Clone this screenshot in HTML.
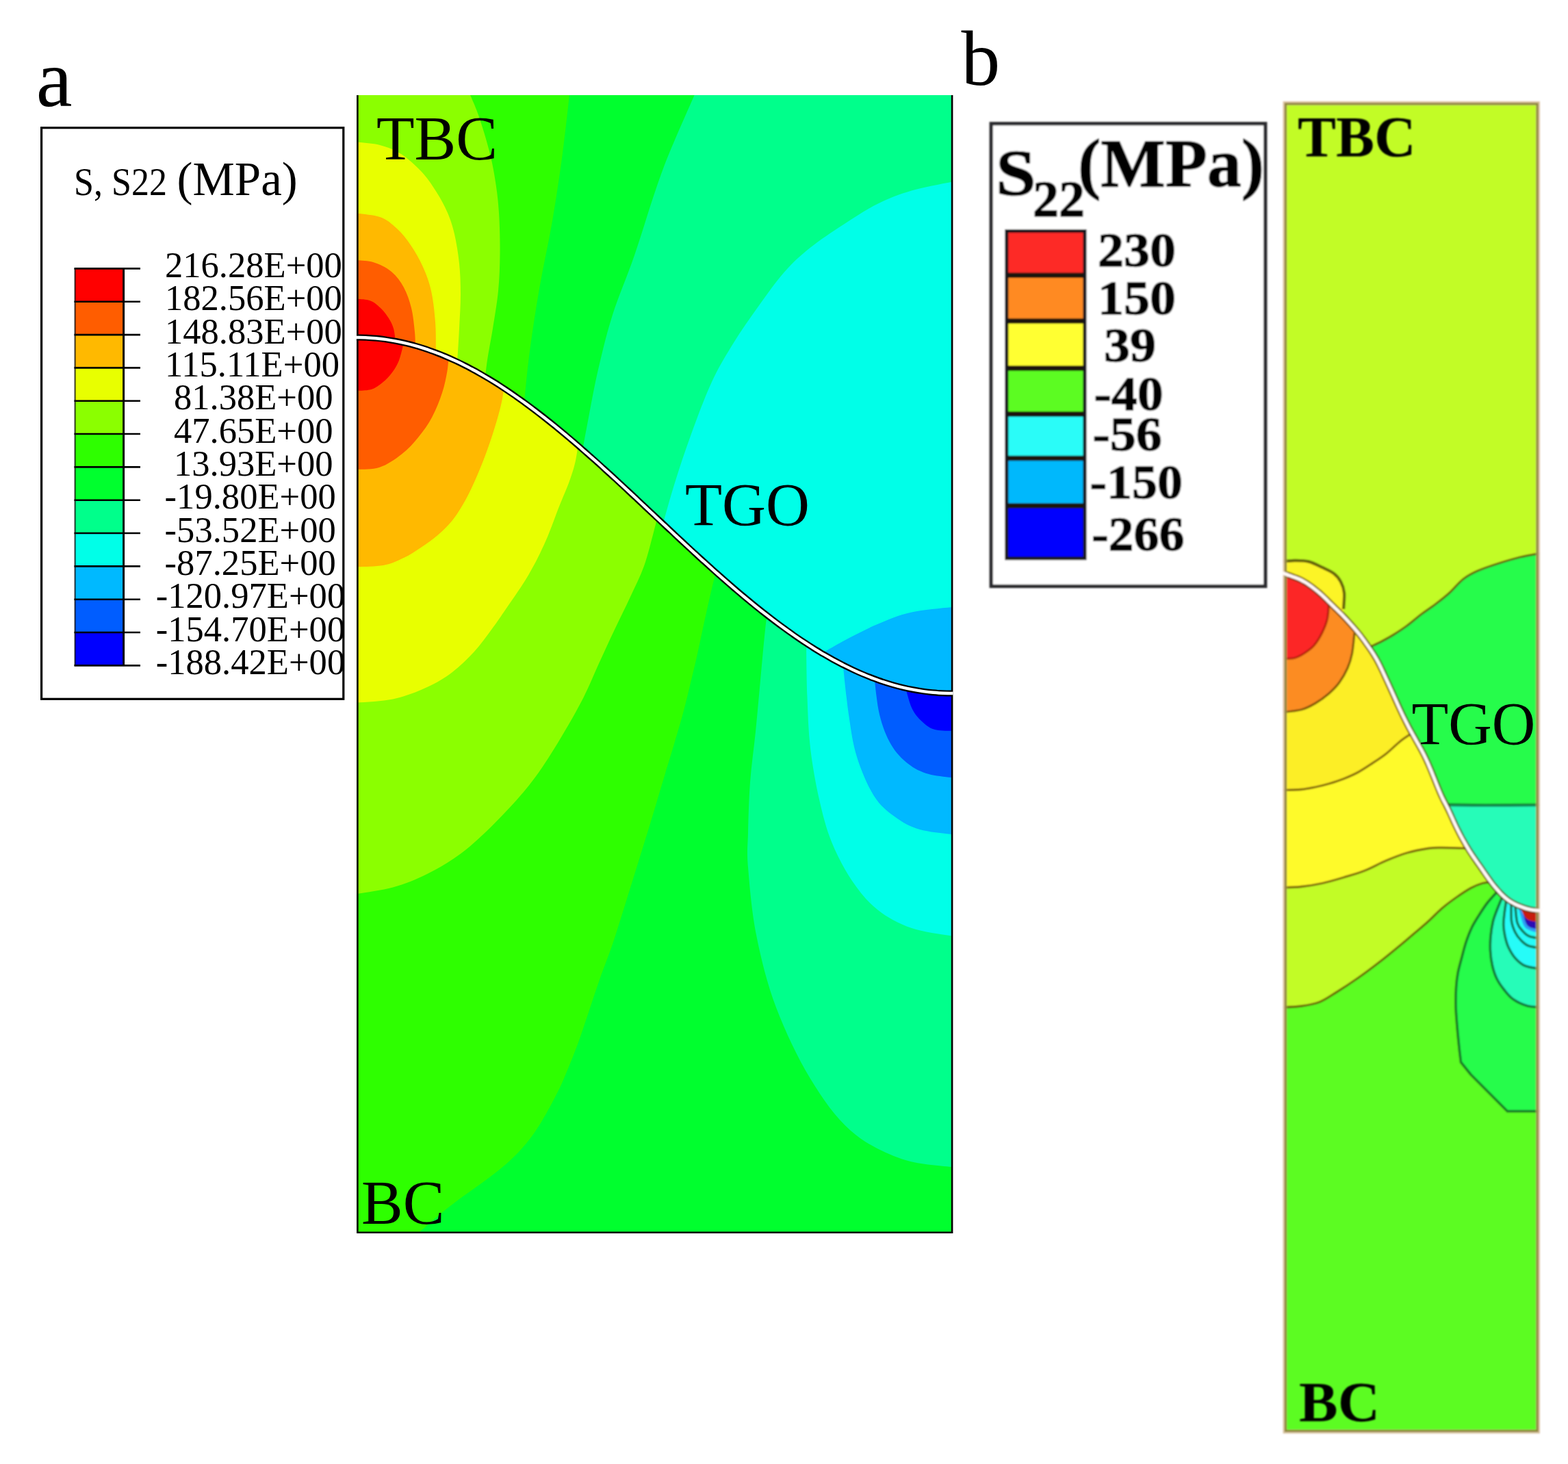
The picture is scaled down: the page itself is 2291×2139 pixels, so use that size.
<!DOCTYPE html>
<html lang="en">
<head>
<meta charset="utf-8">
<title>S22 stress contours: TBC / TGO / BC</title>
<style>
html,body{margin:0;padding:0;background:#fff;}
body{width:2291px;height:2139px;overflow:hidden;}
svg{display:block;}
text{font-family:"Liberation Serif","DejaVu Serif",serif;fill:#000;}
.b{font-weight:bold;}
</style>
</head>
<body>
<svg width="2291" height="2139" viewBox="0 0 2291 2139">
<rect x="0" y="0" width="2291" height="2139" fill="#ffffff"/>
<defs>
<clipPath id="aTop"><path d="M521,139 L1391,139 L1401,1012.8 C1398.5,1012.8 1391.1,1013 1386.2,1013 C1381.2,1012.9 1376.3,1012.7 1371.3,1012.4 C1366.4,1012.1 1361.4,1011.7 1356.5,1011.1 C1351.6,1010.5 1346.6,1009.8 1341.7,1009 C1336.7,1008.2 1331.8,1007.3 1326.8,1006.2 C1321.9,1005.2 1316.9,1004 1312,1002.7 C1307.1,1001.4 1302.1,1000 1297.2,998.5 C1292.2,996.9 1287.3,995.3 1282.3,993.5 C1277.4,991.7 1272.4,989.9 1267.5,987.9 C1262.6,985.9 1257.6,983.8 1252.7,981.5 C1247.7,979.3 1242.8,977 1237.8,974.6 C1232.9,972.1 1227.9,969.6 1223,966.9 C1218.1,964.3 1213.1,961.5 1208.2,958.7 C1203.2,955.9 1198.3,952.9 1193.3,949.9 C1188.4,946.8 1183.4,943.7 1178.5,940.5 C1173.6,937.2 1168.6,933.9 1163.7,930.5 C1158.7,927.1 1153.8,923.6 1148.8,920.1 C1143.9,916.5 1138.9,912.9 1134,909.2 C1129.1,905.4 1124.1,901.6 1119.2,897.8 C1114.2,893.9 1109.3,890 1104.3,886 C1099.4,882 1094.4,877.9 1089.5,873.8 C1084.6,869.7 1079.6,865.5 1074.7,861.3 C1069.7,857 1064.8,852.8 1059.8,848.4 C1054.9,844.1 1049.9,839.7 1045,835.3 C1040.1,830.9 1035.1,826.4 1030.2,822 C1025.2,817.5 1020.3,813 1015.3,808.4 C1010.4,803.9 1005.4,799.3 1000.5,794.7 C995.6,790.1 990.6,785.5 985.7,780.9 C980.7,776.2 975.8,771.6 970.8,767 C965.9,762.3 960.9,757.7 956,753 C951.1,748.3 946.1,743.7 941.2,739 C936.2,734.4 931.3,729.8 926.3,725.1 C921.4,720.5 916.4,715.9 911.5,711.3 C906.6,706.7 901.6,702.1 896.7,697.6 C891.7,693 886.8,688.5 881.8,684 C876.9,679.6 871.9,675.1 867,670.7 C862.1,666.3 857.1,661.9 852.2,657.6 C847.2,653.2 842.3,649 837.3,644.7 C832.4,640.5 827.4,636.3 822.5,632.2 C817.6,628.1 812.6,624 807.7,620 C802.7,616 797.8,612.1 792.8,608.2 C787.9,604.4 782.9,600.6 778,596.8 C773.1,593.1 768.1,589.5 763.2,585.9 C758.2,582.4 753.3,578.9 748.3,575.5 C743.4,572.1 738.4,568.8 733.5,565.5 C728.6,562.3 723.6,559.2 718.7,556.1 C713.7,553.1 708.8,550.1 703.8,547.3 C698.9,544.5 693.9,541.7 689,539.1 C684.1,536.4 679.1,533.9 674.2,531.4 C669.2,529 664.3,526.7 659.3,524.5 C654.4,522.2 649.4,520.1 644.5,518.1 C639.6,516.1 634.6,514.3 629.7,512.5 C624.7,510.7 619.8,509.1 614.8,507.5 C609.9,506 604.9,504.6 600,503.3 C595.1,502 590.1,500.8 585.2,499.8 C580.2,498.7 575.3,497.8 570.3,497 C565.4,496.2 560.4,495.5 555.5,494.9 C550.6,494.3 545.6,493.9 540.7,493.6 C535.7,493.3 530.8,493.1 525.8,493 C520.9,493 513.5,493.2 511,493.2 Z"/></clipPath>
<clipPath id="aBot"><path d="M521,1801 L1391,1801 L1401,1012.8 C1398.5,1012.8 1391.1,1013 1386.2,1013 C1381.2,1012.9 1376.3,1012.7 1371.3,1012.4 C1366.4,1012.1 1361.4,1011.7 1356.5,1011.1 C1351.6,1010.5 1346.6,1009.8 1341.7,1009 C1336.7,1008.2 1331.8,1007.3 1326.8,1006.2 C1321.9,1005.2 1316.9,1004 1312,1002.7 C1307.1,1001.4 1302.1,1000 1297.2,998.5 C1292.2,996.9 1287.3,995.3 1282.3,993.5 C1277.4,991.7 1272.4,989.9 1267.5,987.9 C1262.6,985.9 1257.6,983.8 1252.7,981.5 C1247.7,979.3 1242.8,977 1237.8,974.6 C1232.9,972.1 1227.9,969.6 1223,966.9 C1218.1,964.3 1213.1,961.5 1208.2,958.7 C1203.2,955.9 1198.3,952.9 1193.3,949.9 C1188.4,946.8 1183.4,943.7 1178.5,940.5 C1173.6,937.2 1168.6,933.9 1163.7,930.5 C1158.7,927.1 1153.8,923.6 1148.8,920.1 C1143.9,916.5 1138.9,912.9 1134,909.2 C1129.1,905.4 1124.1,901.6 1119.2,897.8 C1114.2,893.9 1109.3,890 1104.3,886 C1099.4,882 1094.4,877.9 1089.5,873.8 C1084.6,869.7 1079.6,865.5 1074.7,861.3 C1069.7,857 1064.8,852.8 1059.8,848.4 C1054.9,844.1 1049.9,839.7 1045,835.3 C1040.1,830.9 1035.1,826.4 1030.2,822 C1025.2,817.5 1020.3,813 1015.3,808.4 C1010.4,803.9 1005.4,799.3 1000.5,794.7 C995.6,790.1 990.6,785.5 985.7,780.9 C980.7,776.2 975.8,771.6 970.8,767 C965.9,762.3 960.9,757.7 956,753 C951.1,748.3 946.1,743.7 941.2,739 C936.2,734.4 931.3,729.8 926.3,725.1 C921.4,720.5 916.4,715.9 911.5,711.3 C906.6,706.7 901.6,702.1 896.7,697.6 C891.7,693 886.8,688.5 881.8,684 C876.9,679.6 871.9,675.1 867,670.7 C862.1,666.3 857.1,661.9 852.2,657.6 C847.2,653.2 842.3,649 837.3,644.7 C832.4,640.5 827.4,636.3 822.5,632.2 C817.6,628.1 812.6,624 807.7,620 C802.7,616 797.8,612.1 792.8,608.2 C787.9,604.4 782.9,600.6 778,596.8 C773.1,593.1 768.1,589.5 763.2,585.9 C758.2,582.4 753.3,578.9 748.3,575.5 C743.4,572.1 738.4,568.8 733.5,565.5 C728.6,562.3 723.6,559.2 718.7,556.1 C713.7,553.1 708.8,550.1 703.8,547.3 C698.9,544.5 693.9,541.7 689,539.1 C684.1,536.4 679.1,533.9 674.2,531.4 C669.2,529 664.3,526.7 659.3,524.5 C654.4,522.2 649.4,520.1 644.5,518.1 C639.6,516.1 634.6,514.3 629.7,512.5 C624.7,510.7 619.8,509.1 614.8,507.5 C609.9,506 604.9,504.6 600,503.3 C595.1,502 590.1,500.8 585.2,499.8 C580.2,498.7 575.3,497.8 570.3,497 C565.4,496.2 560.4,495.5 555.5,494.9 C550.6,494.3 545.6,493.9 540.7,493.6 C535.7,493.3 530.8,493.1 525.8,493 C520.9,493 513.5,493.2 511,493.2 Z"/></clipPath>
<clipPath id="aBox"><rect x="521" y="139" width="870" height="1662"/></clipPath>
</defs>
<g id="panel-a-plot">
<g clip-path="url(#aBox)"><g clip-path="url(#aTop)">
<rect x="521" y="137" width="870" height="1100" fill="#00ff8b"/>
<path d="M1018.5,130 C1010.1,149.8 983.2,208.5 968,249 C952.8,289.5 939.2,337.8 927,373 C914.8,408.2 903.8,432.2 895,460 C886.2,487.8 879.8,515 874,540 C868.2,565 864.3,587.5 860,610 C855.7,632.5 850,664.2 848,675 L788,1100 L501,1100 L501,119 Z" fill="#00ff2e"/>
<path d="M833,130 C831.2,145.7 826.3,191.8 822,224 C817.7,256.2 812.7,290 807,323 C801.3,356 793.7,389 788,422 C782.3,455 777,489.7 773,521 C769,552.3 765.5,595.2 764,610 L704,1100 L501,1100 L501,119 Z" fill="#2eff00"/>
<path d="M683,130 C685.7,136.3 693.7,152.8 699,168 C704.3,183.2 710.8,204.7 715,221 C719.2,237.3 721.7,251 724,266 C726.3,281 727.9,293.7 729,311 C730.1,328.3 730.7,351 730.5,370 C730.3,389 729.8,406.7 728,425 C726.2,443.3 722.7,463.2 720,480 C717.3,496.8 714,512.7 712,526 C710,539.3 708.7,554.3 708,560 L648,1100 L501,1100 L501,119 Z" fill="#8bff00"/>
<path d="M515,207 C521.7,207.8 543.2,209 555,212 C566.8,215 575.8,218.5 586,225 C596.2,231.5 607.3,241.7 616,251 C624.7,260.3 631.7,271 638,281 C644.3,291 649.7,300.8 654,311 C658.3,321.2 661.2,329.7 664,342 C666.8,354.3 669.5,370.3 671,385 C672.5,399.7 673,414.2 673,430 C673,445.8 671.8,463.3 671,480 C670.2,496.7 668.5,521.7 668,530 L668,1100 L501,1100 Z" fill="#e8ff00"/>
<path d="M515,311 C521.7,312 544.2,313.2 555,317 C565.8,320.8 572.5,327.2 580,334 C587.5,340.8 593.7,348.7 600,358 C606.3,367.3 613,378.8 618,390 C623,401.2 627,411.7 630,425 C633,438.3 634.8,455 636,470 C637.2,485 636.8,507.5 637,515 L637,1100 L501,1100 Z" fill="#ffb900"/>
<path d="M515,380 C520,380.5 535.5,380.2 545,383 C554.5,385.8 564.5,390.8 572,397 C579.5,403.2 585.2,411.2 590,420 C594.8,428.8 598.3,439.2 601,450 C603.7,460.8 605,475 606,485 C607,495 606.8,505.8 607,510 L607,1100 L501,1100 Z" fill="#ff5d00"/>
<path d="M515,436.5 C519.2,436.9 533.2,436.8 540,439 C546.8,441.2 551.3,445.7 556,450 C560.7,454.3 564.8,460 568,465 C571.2,470 573.3,474.2 575,480 C576.7,485.8 577.5,496.7 578,500 L578,1100 L501,1100 Z" fill="#ff0000"/>
<path d="M1400,264 C1388.7,266.4 1351.7,272.8 1332,278.5 C1312.3,284.2 1298.6,289.8 1282,298 C1265.4,306.2 1249,317.2 1232.5,328 C1216,338.8 1197.4,350.9 1183,362.5 C1168.6,374.1 1158.4,383.4 1146,397.5 C1133.6,411.6 1120.9,429.7 1108.5,447 C1096.1,464.3 1082.9,483 1071.5,501.5 C1060.1,520 1050.2,535.9 1040,558 C1029.8,580.1 1019.2,608.9 1010,634 C1000.8,659.1 992.3,685 985,708.5 C977.7,732 969.2,763.9 966,775 L926,1100 L1411,1100 Z" fill="#00ffe8"/>
<path d="M1400,886 C1388.7,887.4 1351.7,890.2 1332,894.5 C1312.3,898.8 1298.6,905 1282,912 C1265.4,919 1247.5,928.5 1232.5,936.5 C1217.5,944.5 1198.8,956.1 1192,960 L1152,1100 L1411,1100 Z" fill="#00b9ff"/>
</g></g>
<g clip-path="url(#aBox)"><g clip-path="url(#aBot)">
<rect x="521" y="400" width="870" height="1401" fill="#00ff2e"/>
<path d="M1400,1706 C1386.3,1703.9 1344.2,1702.5 1318,1693.5 C1291.8,1684.5 1265.3,1671.6 1243,1652 C1220.7,1632.4 1202.2,1606 1184,1576 C1165.8,1546 1147.2,1507 1134,1472 C1120.8,1437 1111.8,1400.2 1105,1366 C1098.2,1331.8 1095,1291.8 1093,1267 C1091,1242.2 1092.5,1237.7 1093,1217 C1093.5,1196.3 1094.2,1167.7 1096,1143 C1097.8,1118.3 1101.5,1093.8 1104,1069 C1106.5,1044.2 1108.7,1018.8 1111,994 C1113.3,969.2 1116,938.2 1118,920 C1120,901.8 1122.2,890.8 1123,885 L1123,400 L1411,400 Z" fill="#00ff8b"/>
<path d="M1400,1369 C1388.7,1366.8 1351.7,1362.7 1332,1356 C1312.3,1349.3 1296.5,1340.5 1282,1329 C1267.5,1317.5 1256.2,1303.5 1245,1287 C1233.8,1270.5 1223,1249.8 1215,1230 C1207,1210.2 1202.2,1190.8 1197,1168 C1191.8,1145.2 1186.9,1117.8 1184,1093 C1181.1,1068.2 1180.5,1044.5 1179.5,1019 C1178.5,993.5 1178.2,953.2 1178,940 L1178,400 L1411,400 Z" fill="#00ffe8"/>
<path d="M1400,1220 C1390.7,1218.7 1359.5,1216.5 1344,1212 C1328.5,1207.5 1318.2,1201.2 1307,1193 C1295.8,1184.8 1286.2,1177.5 1277,1163 C1267.8,1148.5 1258.2,1125.8 1252,1106 C1245.8,1086.2 1243.5,1067.5 1240,1044 C1236.5,1020.5 1232.5,978.2 1231,965 L1231,400 L1411,400 Z" fill="#00b9ff"/>
<path d="M1400,1137 C1392.8,1136 1369.2,1134.5 1357,1131 C1344.8,1127.5 1336.2,1123.2 1327,1116 C1317.8,1108.8 1309,1100 1302,1088 C1295,1076 1289.2,1061.2 1285,1044 C1280.8,1026.8 1278.3,994.8 1277,985 L1277,400 L1411,400 Z" fill="#005dff"/>
<path d="M1400,1068 C1394.3,1067.7 1374.8,1068.3 1366,1066 C1357.2,1063.7 1352.7,1059.3 1347,1054 C1341.3,1048.7 1336.2,1043 1332,1034 C1327.8,1025 1323.7,1005.7 1322,1000 L1322,400 L1411,400 Z" fill="#0000ff"/>
<path d="M590,1818 C594,1814.8 605.2,1806.3 614,1799 C622.8,1791.7 633.5,1781.8 643,1774 C652.5,1766.2 660.5,1759.8 671,1752 C681.5,1744.2 694.8,1735.3 706,1727 C717.2,1718.7 728.5,1710.2 738,1702 C747.5,1693.8 755.6,1685.8 763,1677.5 C770.4,1669.2 776.8,1660.8 782.5,1652.5 C788.2,1644.2 792.8,1636.2 797.5,1628 C802.2,1619.8 806.8,1611.3 811,1603 C815.2,1594.7 817.7,1590.4 823,1578 C828.3,1565.6 836.8,1545 843,1528.5 C849.2,1512 854.4,1495.4 860,1479 C865.6,1462.6 870.4,1447.3 876.5,1430 C882.6,1412.7 889.1,1397.2 896.5,1375 C903.9,1352.8 912.4,1324.5 921,1297 C929.6,1269.5 939.5,1237.8 948,1210 C956.5,1182.2 965.8,1150.5 972,1130 C978.2,1109.5 980.7,1101.7 985,1087 C989.3,1072.3 994.2,1056.2 998,1042 C1001.8,1027.8 1004.7,1015.7 1008,1002 C1011.3,988.3 1014.8,974 1018,960 C1021.2,946 1023.8,932.5 1027,918 C1030.2,903.5 1033.8,886.8 1037,873 C1040.2,859.2 1044.5,841.3 1046,835 L1076,400 L501,400 L501,1821 Z" fill="#2eff00"/>
<path d="M515,1307 C524.8,1305.2 555.8,1301.5 574,1296.5 C592.2,1291.5 607.4,1285.2 624,1277 C640.6,1268.8 657,1259.4 673.5,1247 C690,1234.6 706.5,1219 723,1202.5 C739.5,1186 758,1166.2 772.5,1148 C787,1129.8 797.1,1114.2 810,1093.5 C822.9,1072.8 839.2,1044.7 850,1024 C860.8,1003.3 867.2,986.5 875,969.5 C882.8,952.5 889.3,938.2 897,922 C904.7,905.8 913.7,887.8 921,872 C928.3,856.2 935.3,842.8 941,827 C946.7,811.2 951.3,791.2 955,777.5 C958.7,763.8 961.7,750.4 963,745 L963,400 L501,400 Z" fill="#8bff00"/>
<path d="M515,1027 C524.8,1026.1 555.8,1025.3 574,1021.5 C592.2,1017.7 609.5,1010.6 624,1004 C638.5,997.4 649.5,990.7 661,982 C672.5,973.3 683.5,962.3 693,952 C702.5,941.7 710.7,929.8 718,920 C725.3,910.2 727.9,906.4 737,893 C746.1,879.6 762.4,856.7 772.5,839.5 C782.6,822.3 790.1,806.6 797.5,790 C804.9,773.4 811.2,754.5 817,740 C822.8,725.5 828,714.2 832,703 C836,691.8 838.7,683.5 841,673 C843.3,662.5 845.2,645.5 846,640 L846,400 L501,400 Z" fill="#e8ff00"/>
<path d="M515,828.5 C522.5,828.1 547.5,828.2 560,826 C572.5,823.8 580.8,819.3 590,815 C599.2,810.7 606.7,805.6 615,800 C623.3,794.4 632.2,788.3 640,781.5 C647.8,774.7 655.2,767.8 662,759 C668.8,750.2 675,740 681,729 C687,718 692.7,705.4 698,693 C703.3,680.6 708.4,667.3 713,654.5 C717.6,641.7 722.1,627.6 725.5,616 C728.9,604.4 731.4,595.2 733.5,585 C735.6,574.8 737.2,560 738,555 L738,400 L501,400 Z" fill="#ffb900"/>
<path d="M515,686 C521.5,685.5 542,686.8 554,683 C566,679.2 577.4,670.9 587,663.5 C596.6,656.1 604.1,647.6 611.5,638.5 C618.9,629.4 625.8,619.8 631.5,609 C637.2,598.2 642.3,585.2 646,574 C649.7,562.8 651.8,551.8 653.5,542 C655.2,532.2 655.6,519.5 656,515 L656,400 L501,400 Z" fill="#ff5d00"/>
<path d="M515,571 C519.2,570.8 533.3,571 540,569.5 C546.7,568 550,565.6 555,562 C560,558.4 565.5,553.5 570,548 C574.5,542.5 578.8,536.2 582,529 C585.2,521.8 587.8,509 589,505 L589,400 L501,400 Z" fill="#ff0000"/>
</g></g>
<path d="M522.4,139 L522.4,1800.8 L1391.1,1800.8 L1391.1,139" fill="none" stroke="#000" stroke-width="2.6" stroke-linejoin="miter"/>
<path d="M521,493 C523.4,493.1 530.7,493.1 535.5,493.3 C540.3,493.5 545.2,493.9 550,494.3 C554.8,494.8 559.7,495.4 564.5,496.1 C569.3,496.8 574.2,497.6 579,498.5 C583.8,499.4 588.7,500.5 593.5,501.7 C598.3,502.8 603.2,504.1 608,505.5 C612.8,506.9 617.7,508.4 622.5,510 C627.3,511.6 632.2,513.4 637,515.2 C641.8,517 646.7,519 651.5,521 C656.3,523.1 661.2,525.3 666,527.5 C670.8,529.8 675.7,532.2 680.5,534.6 C685.3,537.1 690.2,539.7 695,542.3 C699.8,545 704.7,547.8 709.5,550.6 C714.3,553.5 719.2,556.4 724,559.4 C728.8,562.5 733.7,565.6 738.5,568.8 C743.3,572 748.2,575.3 753,578.7 C757.8,582.1 762.7,585.5 767.5,589.1 C772.3,592.6 777.2,596.2 782,599.9 C786.8,603.5 791.7,607.3 796.5,611.1 C801.3,614.9 806.2,618.8 811,622.7 C815.8,626.7 820.7,630.7 825.5,634.7 C830.3,638.8 835.2,642.9 840,647 C844.8,651.2 849.7,655.4 854.5,659.6 C859.3,663.9 864.2,668.2 869,672.5 C873.8,676.8 878.7,681.2 883.5,685.6 C888.3,689.9 893.2,694.4 898,698.8 C902.8,703.3 907.7,707.7 912.5,712.2 C917.3,716.7 922.2,721.2 927,725.8 C931.8,730.3 936.7,734.8 941.5,739.4 C946.3,743.9 951.2,748.5 956,753 C960.8,757.5 965.7,762.1 970.5,766.6 C975.3,771.2 980.2,775.7 985,780.2 C989.8,784.8 994.7,789.3 999.5,793.8 C1004.3,798.3 1009.2,802.7 1014,807.2 C1018.8,811.6 1023.7,816.1 1028.5,820.4 C1033.3,824.8 1038.2,829.2 1043,833.5 C1047.8,837.8 1052.7,842.1 1057.5,846.4 C1062.3,850.6 1067.2,854.8 1072,859 C1076.8,863.1 1081.7,867.2 1086.5,871.3 C1091.3,875.3 1096.2,879.3 1101,883.3 C1105.8,887.2 1110.7,891.1 1115.5,894.9 C1120.3,898.7 1125.2,902.5 1130,906.1 C1134.8,909.8 1139.7,913.4 1144.5,916.9 C1149.3,920.5 1154.2,923.9 1159,927.3 C1163.8,930.7 1168.7,934 1173.5,937.2 C1178.3,940.4 1183.2,943.5 1188,946.6 C1192.8,949.6 1197.7,952.5 1202.5,955.4 C1207.3,958.2 1212.2,961 1217,963.7 C1221.8,966.3 1226.7,968.9 1231.5,971.4 C1236.3,973.8 1241.2,976.2 1246,978.5 C1250.8,980.7 1255.7,982.9 1260.5,985 C1265.3,987 1270.2,989 1275,990.8 C1279.8,992.6 1284.7,994.4 1289.5,996 C1294.3,997.6 1299.2,999.1 1304,1000.5 C1308.8,1001.9 1313.7,1003.2 1318.5,1004.3 C1323.3,1005.5 1328.2,1006.6 1333,1007.5 C1337.8,1008.4 1342.7,1009.2 1347.5,1009.9 C1352.3,1010.6 1357.2,1011.2 1362,1011.7 C1366.8,1012.1 1371.7,1012.5 1376.5,1012.7 C1381.3,1012.9 1388.6,1012.9 1391,1013" fill="none" stroke="#000" stroke-width="9"/>
<path d="M519.5,493 C521.9,493.1 529.2,493 534,493.2 C538.9,493.4 543.8,493.8 548.6,494.2 C553.5,494.6 558.3,495.2 563.1,495.9 C568,496.6 572.9,497.4 577.7,498.3 C582.6,499.2 587.4,500.2 592.2,501.4 C597.1,502.5 601.9,503.8 606.8,505.2 C611.6,506.5 616.5,508 621.4,509.6 C626.2,511.2 631,513 635.9,514.8 C640.8,516.6 645.6,518.6 650.5,520.6 C655.3,522.6 660.1,524.8 665,527.1 C669.9,529.3 674.7,531.7 679.5,534.1 C684.4,536.6 689.2,539.2 694.1,541.8 C699,544.5 703.8,547.3 708.6,550.1 C713.5,553 718.4,555.9 723.2,558.9 C728.1,562 732.9,565.1 737.8,568.3 C742.6,571.5 747.4,574.8 752.3,578.2 C757.1,581.6 762,585.1 766.9,588.6 C771.7,592.1 776.5,595.7 781.4,599.4 C786.2,603.1 791.1,606.9 796,610.7 C800.8,614.5 805.6,618.4 810.5,622.3 C815.4,626.3 820.2,630.3 825,634.3 C829.9,638.4 834.8,642.5 839.6,646.7 C844.5,650.8 849.3,655.1 854.1,659.3 C859,663.6 863.9,667.9 868.7,672.2 C873.6,676.5 878.4,680.9 883.2,685.3 C888.1,689.7 892.9,694.2 897.8,698.6 C902.6,703.1 907.5,707.6 912.4,712.1 C917.2,716.6 922,721.1 926.9,725.7 C931.8,730.2 936.6,734.8 941.5,739.3 C946.3,743.9 951.1,748.4 956,753 C960.9,757.6 965.7,762.1 970.5,766.7 C975.4,771.2 980.2,775.8 985.1,780.3 C990,784.9 994.8,789.4 999.6,793.9 C1004.5,798.4 1009.4,802.9 1014.2,807.4 C1019.1,811.8 1023.9,816.3 1028.8,820.7 C1033.6,825.1 1038.5,829.5 1043.3,833.8 C1048.1,838.1 1053,842.4 1057.8,846.7 C1062.7,850.9 1067.6,855.2 1072.4,859.3 C1077.2,863.5 1082.1,867.6 1087,871.7 C1091.8,875.7 1096.7,879.7 1101.5,883.7 C1106.3,887.6 1111.2,891.5 1116,895.3 C1120.9,899.1 1125.8,902.9 1130.6,906.6 C1135.4,910.3 1140.3,913.9 1145.2,917.4 C1150,920.9 1154.9,924.4 1159.7,927.8 C1164.5,931.2 1169.4,934.5 1174.2,937.7 C1179.1,940.9 1184,944 1188.8,947.1 C1193.6,950.1 1198.5,953 1203.3,955.9 C1208.2,958.7 1213.1,961.5 1217.9,964.2 C1222.8,966.8 1227.6,969.4 1232.5,971.9 C1237.3,974.3 1242.2,976.7 1247,978.9 C1251.8,981.2 1256.7,983.4 1261.5,985.4 C1266.4,987.4 1271.2,989.4 1276.1,991.2 C1280.9,993 1285.8,994.8 1290.7,996.4 C1295.5,998 1300.4,999.5 1305.2,1000.8 C1310,1002.2 1314.9,1003.5 1319.8,1004.6 C1324.6,1005.8 1329.5,1006.8 1334.3,1007.7 C1339.1,1008.6 1344,1009.4 1348.8,1010.1 C1353.7,1010.8 1358.6,1011.4 1363.4,1011.8 C1368.2,1012.2 1373.1,1012.6 1378,1012.8 C1382.8,1013 1390.1,1012.9 1392.5,1013" fill="none" stroke="#fff" stroke-width="4.4"/>
</g>
<defs>
<filter id="soft" x="-5%" y="-5%" width="110%" height="110%"><feGaussianBlur stdDeviation="0.9"/></filter>
<filter id="soft2" x="-2%" y="-2%" width="104%" height="104%"><feGaussianBlur stdDeviation="1.1"/></filter>
<clipPath id="bTop"><path d="M1875,148.5 L2249.5,148.5 L2259.5,1330.9 C2258.4,1330.8 2255.1,1330.7 2252.9,1330.6 C2250.7,1330.5 2248.5,1330.4 2246.3,1330.2 C2244.2,1330.1 2242,1330 2239.8,1329.7 C2237.6,1329.3 2235.4,1328.9 2233.2,1328.3 C2231,1327.8 2228.8,1327.1 2226.6,1326.3 C2224.4,1325.6 2222.2,1324.8 2220.1,1323.9 C2217.9,1323 2215.7,1322.1 2213.5,1321 C2211.3,1319.9 2209.1,1318.7 2206.9,1317.3 C2204.7,1315.9 2202.5,1314.3 2200.3,1312.5 C2198.1,1310.7 2195.9,1308.7 2193.8,1306.5 C2191.6,1304.3 2189.4,1301.9 2187.2,1299.3 C2185,1296.8 2182.8,1294.2 2180.6,1291.4 C2178.4,1288.6 2176.2,1285.5 2174,1282.4 C2171.8,1279.4 2169.6,1276.1 2167.4,1273 C2165.3,1269.8 2163.1,1266.7 2160.9,1263.5 C2158.7,1260.4 2156.5,1257.3 2154.3,1254.1 C2152.1,1250.9 2149.9,1247.6 2147.7,1244.2 C2145.5,1240.7 2143.3,1237.1 2141.2,1233.3 C2139,1229.6 2136.8,1225.7 2134.6,1221.5 C2132.4,1217.4 2130.2,1213.1 2128,1208.6 C2125.8,1204 2123.6,1199.1 2121.4,1194.3 C2119.2,1189.6 2117,1184.5 2114.8,1180.1 C2112.7,1175.6 2110.5,1172.2 2108.3,1167.6 C2106.1,1163 2103.9,1157.9 2101.7,1152.6 C2099.5,1147.4 2097.3,1141.5 2095.1,1136.1 C2092.9,1130.7 2090.7,1125.2 2088.6,1120.1 C2086.4,1115 2084.2,1110.2 2082,1105.7 C2079.8,1101.2 2077.6,1097.2 2075.4,1093.1 C2073.2,1089 2071,1085.3 2068.8,1081.3 C2066.6,1077.4 2064.4,1073.6 2062.2,1069.7 C2060.1,1065.7 2057.9,1061.7 2055.7,1057.4 C2053.5,1053.1 2051.3,1048.6 2049.1,1044 C2046.9,1039.4 2044.7,1034.6 2042.5,1029.9 C2040.3,1025.1 2038.1,1020.2 2036,1015.3 C2033.8,1010.5 2031.6,1005.6 2029.4,1000.8 C2027.2,996 2025,991.3 2022.8,986.6 C2020.6,981.9 2018.4,976.7 2016.2,972.4 C2014,968 2011.8,964.1 2009.7,960.4 C2007.5,956.7 2005.3,953.4 2003.1,950.1 C2000.9,946.8 1998.7,943.7 1996.5,940.6 C1994.3,937.5 1992.1,934.5 1989.9,931.6 C1987.7,928.7 1985.5,925.9 1983.3,923.3 C1981.2,920.6 1979,918 1976.8,915.5 C1974.6,913 1972.4,910.6 1970.2,908.2 C1968,905.8 1965.8,903.5 1963.6,901.2 C1961.4,898.9 1959.2,896.7 1957,894.5 C1954.9,892.4 1952.7,890.3 1950.5,888.1 C1948.3,886 1946.1,883.9 1943.9,881.7 C1941.7,879.6 1939.5,877.4 1937.3,875.2 C1935.1,873.1 1932.9,870.9 1930.8,868.9 C1928.6,866.9 1926.4,865 1924.2,863.2 C1922,861.4 1919.8,859.7 1917.6,858 C1915.4,856.4 1913.2,854.8 1911,853.4 C1908.8,851.9 1906.6,850.5 1904.5,849.3 C1902.3,848.1 1900.1,847 1897.9,846 C1895.7,845 1893.5,844.2 1891.3,843.4 C1889.1,842.6 1886.9,841.9 1884.7,841.1 C1882.5,840.3 1880.3,839.4 1878.2,838.6 C1876,837.9 1873.8,837.2 1871.6,836.7 C1869.4,836.3 1866.1,836.1 1865,836 Z"/></clipPath>
<clipPath id="bBot"><path d="M1875,2094 L2249.5,2094 L2259.5,1330.9 C2258.4,1330.8 2255.1,1330.7 2252.9,1330.6 C2250.7,1330.5 2248.5,1330.4 2246.3,1330.2 C2244.2,1330.1 2242,1330 2239.8,1329.7 C2237.6,1329.3 2235.4,1328.9 2233.2,1328.3 C2231,1327.8 2228.8,1327.1 2226.6,1326.3 C2224.4,1325.6 2222.2,1324.8 2220.1,1323.9 C2217.9,1323 2215.7,1322.1 2213.5,1321 C2211.3,1319.9 2209.1,1318.7 2206.9,1317.3 C2204.7,1315.9 2202.5,1314.3 2200.3,1312.5 C2198.1,1310.7 2195.9,1308.7 2193.8,1306.5 C2191.6,1304.3 2189.4,1301.9 2187.2,1299.3 C2185,1296.8 2182.8,1294.2 2180.6,1291.4 C2178.4,1288.6 2176.2,1285.5 2174,1282.4 C2171.8,1279.4 2169.6,1276.1 2167.4,1273 C2165.3,1269.8 2163.1,1266.7 2160.9,1263.5 C2158.7,1260.4 2156.5,1257.3 2154.3,1254.1 C2152.1,1250.9 2149.9,1247.6 2147.7,1244.2 C2145.5,1240.7 2143.3,1237.1 2141.2,1233.3 C2139,1229.6 2136.8,1225.7 2134.6,1221.5 C2132.4,1217.4 2130.2,1213.1 2128,1208.6 C2125.8,1204 2123.6,1199.1 2121.4,1194.3 C2119.2,1189.6 2117,1184.5 2114.8,1180.1 C2112.7,1175.6 2110.5,1172.2 2108.3,1167.6 C2106.1,1163 2103.9,1157.9 2101.7,1152.6 C2099.5,1147.4 2097.3,1141.5 2095.1,1136.1 C2092.9,1130.7 2090.7,1125.2 2088.6,1120.1 C2086.4,1115 2084.2,1110.2 2082,1105.7 C2079.8,1101.2 2077.6,1097.2 2075.4,1093.1 C2073.2,1089 2071,1085.3 2068.8,1081.3 C2066.6,1077.4 2064.4,1073.6 2062.2,1069.7 C2060.1,1065.7 2057.9,1061.7 2055.7,1057.4 C2053.5,1053.1 2051.3,1048.6 2049.1,1044 C2046.9,1039.4 2044.7,1034.6 2042.5,1029.9 C2040.3,1025.1 2038.1,1020.2 2036,1015.3 C2033.8,1010.5 2031.6,1005.6 2029.4,1000.8 C2027.2,996 2025,991.3 2022.8,986.6 C2020.6,981.9 2018.4,976.7 2016.2,972.4 C2014,968 2011.8,964.1 2009.7,960.4 C2007.5,956.7 2005.3,953.4 2003.1,950.1 C2000.9,946.8 1998.7,943.7 1996.5,940.6 C1994.3,937.5 1992.1,934.5 1989.9,931.6 C1987.7,928.7 1985.5,925.9 1983.3,923.3 C1981.2,920.6 1979,918 1976.8,915.5 C1974.6,913 1972.4,910.6 1970.2,908.2 C1968,905.8 1965.8,903.5 1963.6,901.2 C1961.4,898.9 1959.2,896.7 1957,894.5 C1954.9,892.4 1952.7,890.3 1950.5,888.1 C1948.3,886 1946.1,883.9 1943.9,881.7 C1941.7,879.6 1939.5,877.4 1937.3,875.2 C1935.1,873.1 1932.9,870.9 1930.8,868.9 C1928.6,866.9 1926.4,865 1924.2,863.2 C1922,861.4 1919.8,859.7 1917.6,858 C1915.4,856.4 1913.2,854.8 1911,853.4 C1908.8,851.9 1906.6,850.5 1904.5,849.3 C1902.3,848.1 1900.1,847 1897.9,846 C1895.7,845 1893.5,844.2 1891.3,843.4 C1889.1,842.6 1886.9,841.9 1884.7,841.1 C1882.5,840.3 1880.3,839.4 1878.2,838.6 C1876,837.9 1873.8,837.2 1871.6,836.7 C1869.4,836.3 1866.1,836.1 1865,836 Z"/></clipPath>
<clipPath id="bBox"><rect x="1875" y="148.5" width="374.5" height="1945.5"/></clipPath>
</defs>
<g id="panel-b-plot" filter="url(#soft2)">
<g clip-path="url(#bBox)"><g clip-path="url(#bTop)">
<rect x="1875" y="148.5" width="374.5" height="1300" fill="#c2fc26"/>
<path d="M2252,808 C2246.8,809 2231.3,811.5 2221,814 C2210.7,816.5 2200.3,819.7 2190,823 C2179.7,826.3 2167.7,830.2 2159,834 C2150.3,837.8 2144.8,840.7 2138,846 C2131.2,851.3 2124.8,859.8 2118,866 C2111.2,872.2 2104,877.7 2097,883 C2090,888.3 2082.8,892.8 2076,898 C2069.2,903.2 2062.8,909 2056,914 C2049.2,919 2041.8,923.8 2035,928 C2028.2,932.2 2020.8,936 2015,939 C2009.2,942 2002.5,944.8 2000,946 L2000,1400 L2259.5,1400 Z" fill="#26fc4c"/>
<path d="M2100,1175.5 C2111.7,1175.7 2144.7,1176.4 2170,1176.5 C2195.3,1176.6 2238.3,1176.1 2252,1176 L2259.5,1400 L2100,1400 Z" fill="#26fcb8"/>
<path d="M1870,821 C1873.5,820.7 1884,819.1 1891,819 C1898,818.9 1905.2,818.8 1912,820.5 C1918.8,822.2 1925.8,826.1 1932,829 C1938.2,831.9 1944.5,834.5 1949,838 C1953.5,841.5 1956.5,845.3 1959,850 C1961.5,854.7 1963.3,859.3 1964,866 C1964.7,872.7 1963.2,886 1963,890 L1963,960 L1870,960 Z" fill="#fcf428"/>
<path d="M2252,808 C2246.8,809 2231.3,811.5 2221,814 C2210.7,816.5 2200.3,819.7 2190,823 C2179.7,826.3 2167.7,830.2 2159,834 C2150.3,837.8 2144.8,840.7 2138,846 C2131.2,851.3 2124.8,859.8 2118,866 C2111.2,872.2 2104,877.7 2097,883 C2090,888.3 2082.8,892.8 2076,898 C2069.2,903.2 2062.8,909 2056,914 C2049.2,919 2041.8,923.8 2035,928 C2028.2,932.2 2020.8,936 2015,939 C2009.2,942 2002.5,944.8 2000,946" fill="none" stroke="#5a3800" stroke-opacity="0.72" stroke-width="3.3" stroke-linejoin="round"/>
<path d="M2100,1175.5 C2111.7,1175.7 2144.7,1176.4 2170,1176.5 C2195.3,1176.6 2238.3,1176.1 2252,1176" fill="none" stroke="#0c5a30" stroke-opacity="0.7" stroke-width="4.6"/>
<path d="M1870,821 C1873.5,820.7 1884,819.1 1891,819 C1898,818.9 1905.2,818.8 1912,820.5 C1918.8,822.2 1925.8,826.1 1932,829 C1938.2,831.9 1944.5,834.5 1949,838 C1953.5,841.5 1956.5,845.3 1959,850 C1961.5,854.7 1963.3,859.3 1964,866 C1964.7,872.7 1963.2,886 1963,890" fill="none" stroke="#4a4000" stroke-opacity="0.8" stroke-width="4.4"/>
</g></g>
<g clip-path="url(#bBox)"><g clip-path="url(#bBot)">
<rect x="1875" y="800" width="374.5" height="1294" fill="#5cfc24"/>
<path d="M2178,1289 C2176,1289.2 2170.8,1289.1 2166,1290.5 C2161.2,1291.9 2155.3,1294.1 2149,1297.5 C2142.7,1300.9 2135,1306.1 2128,1311 C2121,1315.9 2113.8,1321.2 2107,1327 C2100.2,1332.8 2093.8,1339.8 2087,1346 C2080.2,1352.2 2072.8,1358.2 2066,1364 C2059.2,1369.8 2054.5,1374 2046,1381 C2037.5,1388 2025.3,1398 2015,1406 C2004.7,1414 1994.3,1421.8 1984,1429 C1973.7,1436.2 1962.3,1443.7 1953,1449.5 C1943.7,1455.3 1936.7,1460.6 1928,1464 C1919.3,1467.4 1910.7,1468.7 1901,1470 C1891.3,1471.3 1875.2,1471.7 1870,1472 L1865,800 L2188,800 Z" fill="#c2fc26"/>
<path d="M2142,1239.5 C2136.2,1239.3 2116.2,1238.5 2107,1238.5 C2097.8,1238.5 2095.5,1238.2 2087,1239.5 C2078.5,1240.8 2066.3,1243 2056,1246 C2045.7,1249 2035.3,1253.2 2025,1257.5 C2014.7,1261.8 2004.3,1267.9 1994,1272 C1983.7,1276.1 1973.3,1278.9 1963,1282 C1952.7,1285.1 1942.3,1288.2 1932,1290.5 C1921.7,1292.8 1911.3,1294.4 1901,1295.5 C1890.7,1296.6 1875.2,1296.8 1870,1297 L1865,800 L2152,800 Z" fill="#fefa2a"/>
<path d="M2062,1072 C2059.3,1073.8 2052.2,1078.1 2046,1083 C2039.8,1087.9 2032,1096 2025,1101.5 C2018,1107 2010.8,1111.5 2004,1116 C1997.2,1120.5 1990.8,1124.8 1984,1128.5 C1977.2,1132.2 1970,1135.2 1963,1138 C1956,1140.8 1948.8,1143 1942,1145 C1935.2,1147 1928.8,1148.6 1922,1150 C1915.2,1151.4 1909.7,1152.8 1901,1153.5 C1892.3,1154.2 1875.2,1154.3 1870,1154.5 L1865,800 L2072,800 Z" fill="#fcee26"/>
<path d="M1979,925 C1978.4,930 1977.2,946.5 1975.5,955 C1973.8,963.5 1972.1,969 1969,976 C1965.9,983 1961.5,990.8 1957,997 C1952.5,1003.2 1947.8,1007.9 1942,1013 C1936.2,1018.1 1928.8,1023.5 1922,1027.5 C1915.2,1031.5 1909.7,1034.8 1901,1037 C1892.3,1039.2 1875.2,1040.3 1870,1041 L1865,800 L1989,800 Z" fill="#fc8c24"/>
<path d="M1942,876 C1941.6,880.7 1941.2,896 1939.5,904 C1937.8,912 1935.2,917.5 1932,924 C1928.8,930.5 1924.5,937.8 1920,943 C1915.5,948.2 1909.8,951.9 1905,955 C1900.2,958.1 1896.8,960.2 1891,961.5 C1885.2,962.8 1873.5,962.3 1870,962.5 L1865,800 L1952,800 Z" fill="#fc2626"/>
<path d="M2190,1300 C2187.3,1303 2178.7,1312.1 2174,1318 C2169.3,1323.9 2165.9,1329.3 2162,1335.5 C2158.1,1341.7 2153.8,1348.2 2150.5,1355 C2147.2,1361.8 2144.5,1369 2142,1376.5 C2139.5,1384 2137.5,1392.4 2135.5,1400 C2133.5,1407.6 2131.3,1414.8 2130,1422 C2128.7,1429.2 2128,1435 2127.5,1443 C2127,1451 2126.8,1460.5 2127,1470 C2127.2,1479.5 2128.2,1489.8 2129,1500 C2129.8,1510.2 2131.1,1522.3 2132,1531 C2132.9,1539.7 2134.1,1548.5 2134.5,1552 L2149,1570 L2202.5,1623.7 L2252,1623.7 L2259.5,1200 L2190,1200 Z" fill="#26fc4c"/>
<path d="M2196,1308 C2194.5,1311.7 2189.4,1323.7 2187,1330 C2184.6,1336.3 2183,1339.7 2181.5,1346 C2180,1352.3 2178.7,1360.8 2178,1368 C2177.3,1375.2 2177.1,1381.8 2177.5,1389 C2177.9,1396.2 2178.9,1404.2 2180.5,1411 C2182.1,1417.8 2184.1,1424.1 2187,1430 C2189.9,1435.9 2194,1441.5 2198,1446.5 C2202,1451.5 2205.5,1456.2 2211,1460 C2216.5,1463.8 2224.2,1467.5 2231,1469.5 C2237.8,1471.5 2248.5,1471.6 2252,1472 L2259.5,1200 L2196,1200 Z" fill="#26fcb8"/>
<path d="M2201,1314 C2200.5,1317.6 2198.7,1329.2 2198,1335.5 C2197.3,1341.8 2196.6,1346.1 2196.8,1351.5 C2197,1356.9 2197.8,1362.6 2199,1368 C2200.2,1373.4 2201.5,1378.7 2204,1384 C2206.5,1389.3 2210,1395.5 2214,1400 C2218,1404.5 2221.7,1408.3 2228,1411 C2234.3,1413.7 2248,1415.2 2252,1416 L2259.5,1200 L2201,1200 Z" fill="#26fcf8"/>
<path d="M2219,1328 C2220.2,1331.9 2223.4,1346.3 2226,1351.5 C2228.6,1356.7 2230.2,1356.9 2234.5,1359 C2238.8,1361.1 2249.1,1363.2 2252,1364 L2259.5,1200 L2219,1200 Z" fill="#2e9cf4"/>
<path d="M2224,1330 C2225,1333.2 2227.6,1345.2 2230,1349.5 C2232.4,1353.8 2234.8,1354.7 2238.5,1356 C2242.2,1357.3 2249.8,1357.2 2252,1357.5 L2259.5,1200 L2224,1200 Z" fill="#2c10b4"/>
<path d="M2222,1328 C2223.3,1330.3 2227,1339 2230,1342 C2233,1345 2236.3,1345.2 2240,1346 C2243.7,1346.8 2250,1346.4 2252,1346.5 L2259.5,1200 L2222,1200 Z" fill="#c81e0a"/>
<path d="M2178,1289 C2176,1289.2 2170.8,1289.1 2166,1290.5 C2161.2,1291.9 2155.3,1294.1 2149,1297.5 C2142.7,1300.9 2135,1306.1 2128,1311 C2121,1315.9 2113.8,1321.2 2107,1327 C2100.2,1332.8 2093.8,1339.8 2087,1346 C2080.2,1352.2 2072.8,1358.2 2066,1364 C2059.2,1369.8 2054.5,1374 2046,1381 C2037.5,1388 2025.3,1398 2015,1406 C2004.7,1414 1994.3,1421.8 1984,1429 C1973.7,1436.2 1962.3,1443.7 1953,1449.5 C1943.7,1455.3 1936.7,1460.6 1928,1464 C1919.3,1467.4 1910.7,1468.7 1901,1470 C1891.3,1471.3 1875.2,1471.7 1870,1472" fill="none" stroke="#5a3800" stroke-opacity="0.72" stroke-width="3.3" stroke-linejoin="round"/>
<path d="M2142,1239.5 C2136.2,1239.3 2116.2,1238.5 2107,1238.5 C2097.8,1238.5 2095.5,1238.2 2087,1239.5 C2078.5,1240.8 2066.3,1243 2056,1246 C2045.7,1249 2035.3,1253.2 2025,1257.5 C2014.7,1261.8 2004.3,1267.9 1994,1272 C1983.7,1276.1 1973.3,1278.9 1963,1282 C1952.7,1285.1 1942.3,1288.2 1932,1290.5 C1921.7,1292.8 1911.3,1294.4 1901,1295.5 C1890.7,1296.6 1875.2,1296.8 1870,1297" fill="none" stroke="#5a3800" stroke-opacity="0.72" stroke-width="3.3" stroke-linejoin="round"/>
<path d="M2062,1072 C2059.3,1073.8 2052.2,1078.1 2046,1083 C2039.8,1087.9 2032,1096 2025,1101.5 C2018,1107 2010.8,1111.5 2004,1116 C1997.2,1120.5 1990.8,1124.8 1984,1128.5 C1977.2,1132.2 1970,1135.2 1963,1138 C1956,1140.8 1948.8,1143 1942,1145 C1935.2,1147 1928.8,1148.6 1922,1150 C1915.2,1151.4 1909.7,1152.8 1901,1153.5 C1892.3,1154.2 1875.2,1154.3 1870,1154.5" fill="none" stroke="#5a3800" stroke-opacity="0.72" stroke-width="3.3" stroke-linejoin="round"/>
<path d="M1979,925 C1978.4,930 1977.2,946.5 1975.5,955 C1973.8,963.5 1972.1,969 1969,976 C1965.9,983 1961.5,990.8 1957,997 C1952.5,1003.2 1947.8,1007.9 1942,1013 C1936.2,1018.1 1928.8,1023.5 1922,1027.5 C1915.2,1031.5 1909.7,1034.8 1901,1037 C1892.3,1039.2 1875.2,1040.3 1870,1041" fill="none" stroke="#5a3800" stroke-opacity="0.72" stroke-width="3.3" stroke-linejoin="round"/>
<path d="M1942,876 C1941.6,880.7 1941.2,896 1939.5,904 C1937.8,912 1935.2,917.5 1932,924 C1928.8,930.5 1924.5,937.8 1920,943 C1915.5,948.2 1909.8,951.9 1905,955 C1900.2,958.1 1896.8,960.2 1891,961.5 C1885.2,962.8 1873.5,962.3 1870,962.5" fill="none" stroke="#8a0a00" stroke-opacity="0.6" stroke-width="3.2"/>
<path d="M2190,1300 C2187.3,1303 2178.7,1312.1 2174,1318 C2169.3,1323.9 2165.9,1329.3 2162,1335.5 C2158.1,1341.7 2153.8,1348.2 2150.5,1355 C2147.2,1361.8 2144.5,1369 2142,1376.5 C2139.5,1384 2137.5,1392.4 2135.5,1400 C2133.5,1407.6 2131.3,1414.8 2130,1422 C2128.7,1429.2 2128,1435 2127.5,1443 C2127,1451 2126.8,1460.5 2127,1470 C2127.2,1479.5 2128.2,1489.8 2129,1500 C2129.8,1510.2 2131.1,1522.3 2132,1531 C2132.9,1539.7 2134.1,1548.5 2134.5,1552 L2149,1570 L2202.5,1623.7 L2252,1623.7" fill="none" stroke="#0c4a20" stroke-opacity="0.72" stroke-width="3.7" stroke-linejoin="round"/>
<path d="M2196,1308 C2194.5,1311.7 2189.4,1323.7 2187,1330 C2184.6,1336.3 2183,1339.7 2181.5,1346 C2180,1352.3 2178.7,1360.8 2178,1368 C2177.3,1375.2 2177.1,1381.8 2177.5,1389 C2177.9,1396.2 2178.9,1404.2 2180.5,1411 C2182.1,1417.8 2184.1,1424.1 2187,1430 C2189.9,1435.9 2194,1441.5 2198,1446.5 C2202,1451.5 2205.5,1456.2 2211,1460 C2216.5,1463.8 2224.2,1467.5 2231,1469.5 C2237.8,1471.5 2248.5,1471.6 2252,1472" fill="none" stroke="#0c4a20" stroke-opacity="0.72" stroke-width="3.7" stroke-linejoin="round"/>
<path d="M2201,1314 C2200.5,1317.6 2198.7,1329.2 2198,1335.5 C2197.3,1341.8 2196.6,1346.1 2196.8,1351.5 C2197,1356.9 2197.8,1362.6 2199,1368 C2200.2,1373.4 2201.5,1378.7 2204,1384 C2206.5,1389.3 2210,1395.5 2214,1400 C2218,1404.5 2221.7,1408.3 2228,1411 C2234.3,1413.7 2248,1415.2 2252,1416" fill="none" stroke="#0c4a20" stroke-opacity="0.72" stroke-width="3.7" stroke-linejoin="round"/>
<path d="M2208,1320 C2208.1,1324.3 2207.5,1338.9 2208.5,1346 C2209.5,1353.1 2211.7,1357.8 2214,1362.5 C2216.3,1367.2 2219.2,1370.8 2222.5,1374 C2225.8,1377.2 2228.6,1380.1 2233.5,1382 C2238.4,1383.9 2248.9,1384.9 2252,1385.5" fill="none" stroke="#0c4a20" stroke-opacity="0.72" stroke-width="3.7" stroke-linejoin="round"/>
<path d="M2214,1325 C2214.5,1328.9 2215.2,1342.7 2217,1348.5 C2218.8,1354.3 2221.6,1356.8 2224.5,1360 C2227.4,1363.2 2229.9,1366.1 2234.5,1368 C2239.1,1369.9 2249.1,1370.9 2252,1371.5" fill="none" stroke="#0c4a20" stroke-opacity="0.72" stroke-width="3.7" stroke-linejoin="round"/>
</g></g>
<path d="M1877,838.2 C1878,838.6 1881.1,839.8 1883.2,840.6 C1885.2,841.3 1887.3,842 1889.3,842.7 C1891.4,843.5 1893.5,844.2 1895.5,845 C1897.6,845.9 1899.6,846.8 1901.7,847.8 C1903.8,848.9 1905.8,850.1 1907.9,851.4 C1909.9,852.6 1912,854 1914,855.5 C1916.1,856.9 1918.2,858.4 1920.2,860 C1922.3,861.6 1924.3,863.3 1926.4,865 C1928.5,866.8 1930.5,868.7 1932.6,870.6 C1934.6,872.6 1936.7,874.6 1938.8,876.6 C1940.8,878.7 1942.9,880.7 1944.9,882.8 C1947,884.8 1949,886.7 1951.1,888.8 C1953.2,890.8 1955.2,892.7 1957.3,894.8 C1959.3,896.8 1961.4,898.9 1963.5,901 C1965.5,903.1 1967.6,905.3 1969.6,907.6 C1971.7,909.8 1973.7,912.1 1975.8,914.4 C1977.9,916.8 1979.9,919.1 1982,921.6 C1984,924.1 1986.1,926.6 1988.2,929.3 C1990.2,932 1992.3,934.7 1994.3,937.6 C1996.4,940.4 1998.4,943.3 2000.5,946.3 C2002.6,949.3 2004.6,952.3 2006.7,955.6 C2008.7,958.9 2010.8,962.1 2012.8,965.9 C2014.9,969.7 2017,974 2019,978.3 C2021.1,982.6 2023.1,987.3 2025.2,991.8 C2027.3,996.3 2029.3,1000.7 2031.4,1005.2 C2033.4,1009.7 2035.5,1014.3 2037.5,1018.9 C2039.6,1023.4 2041.7,1028 2043.7,1032.5 C2045.8,1036.9 2047.8,1041.4 2049.9,1045.7 C2052,1050 2054,1054.2 2056.1,1058.2 C2058.1,1062.2 2060.2,1065.9 2062.2,1069.7 C2064.3,1073.4 2066.4,1077 2068.4,1080.6 C2070.5,1084.3 2072.5,1087.9 2074.6,1091.6 C2076.7,1095.4 2078.7,1099.2 2080.8,1103.3 C2082.8,1107.4 2084.9,1111.8 2086.9,1116.4 C2089,1121.1 2091.1,1126.1 2093.1,1131.1 C2095.2,1136.2 2097.2,1141.6 2099.3,1146.6 C2101.4,1151.7 2103.4,1157 2105.5,1161.6 C2107.5,1166.1 2109.6,1169.9 2111.7,1174 C2113.7,1178.2 2115.8,1182 2117.8,1186.4 C2119.9,1190.7 2121.9,1195.6 2124,1200.1 C2126.1,1204.5 2128.1,1208.9 2130.2,1213 C2132.2,1217.1 2134.3,1221 2136.3,1224.8 C2138.4,1228.6 2140.5,1232.2 2142.5,1235.7 C2144.6,1239.2 2146.6,1242.5 2148.7,1245.7 C2150.8,1248.9 2152.8,1251.9 2154.9,1254.9 C2156.9,1257.9 2159,1260.8 2161.1,1263.8 C2163.1,1266.7 2165.2,1269.7 2167.2,1272.7 C2169.3,1275.6 2171.3,1278.6 2173.4,1281.5 C2175.5,1284.4 2177.5,1287.4 2179.6,1290.1 C2181.6,1292.7 2183.7,1295.3 2185.8,1297.7 C2187.8,1300.1 2189.9,1302.5 2191.9,1304.6 C2194,1306.8 2196,1308.8 2198.1,1310.7 C2200.2,1312.5 2202.2,1314.1 2204.3,1315.5 C2206.3,1317 2208.4,1318.3 2210.4,1319.4 C2212.5,1320.6 2214.6,1321.5 2216.6,1322.4 C2218.7,1323.4 2220.7,1324.2 2222.8,1325 C2224.9,1325.8 2226.9,1326.4 2229,1327.1 C2231,1327.7 2233.1,1328.4 2235.2,1328.8 C2237.2,1329.3 2239.3,1329.6 2241.3,1329.8 C2243.4,1330.1 2246.5,1330.2 2247.5,1330.3" fill="none" stroke="#5a3c08" stroke-opacity="0.7" stroke-width="9.6"/>
<path d="M1876,837.8 C1877,838.2 1880.2,839.5 1882.3,840.3 C1884.4,841 1886.5,841.7 1888.5,842.5 C1890.6,843.2 1892.7,843.9 1894.8,844.8 C1896.9,845.6 1899,846.5 1901.1,847.5 C1903.2,848.6 1905.3,849.8 1907.4,851 C1909.5,852.3 1911.6,853.7 1913.7,855.2 C1915.7,856.6 1917.8,858.2 1919.9,859.8 C1922,861.4 1924.1,863.1 1926.2,864.9 C1928.3,866.6 1930.4,868.6 1932.5,870.5 C1934.6,872.5 1936.7,874.6 1938.8,876.6 C1940.8,878.7 1942.9,880.8 1945,882.8 C1947.1,884.9 1949.2,886.9 1951.3,888.9 C1953.4,891 1955.5,893 1957.6,895.1 C1959.7,897.1 1961.8,899.2 1963.8,901.4 C1965.9,903.6 1968,905.8 1970.1,908.1 C1972.2,910.4 1974.3,912.7 1976.4,915.1 C1978.5,917.5 1980.6,919.9 1982.7,922.4 C1984.8,925 1986.9,927.6 1989,930.3 C1991,933.1 1993.1,935.9 1995.2,938.8 C1997.3,941.7 1999.4,944.7 2001.5,947.7 C2003.6,950.8 2005.7,953.9 2007.8,957.3 C2009.9,960.7 2012,964.2 2014,968.1 C2016.1,972.1 2018.2,976.7 2020.3,981.2 C2022.4,985.6 2024.5,990.2 2026.6,994.8 C2028.7,999.3 2030.8,1003.9 2032.9,1008.5 C2035,1013.1 2037.1,1017.8 2039.2,1022.4 C2041.2,1027 2043.3,1031.7 2045.4,1036.2 C2047.5,1040.7 2049.6,1045.2 2051.7,1049.4 C2053.8,1053.7 2055.9,1057.8 2058,1061.8 C2060.1,1065.8 2062.2,1069.5 2064.2,1073.2 C2066.3,1077 2068.4,1080.6 2070.5,1084.4 C2072.6,1088.1 2074.7,1091.7 2076.8,1095.7 C2078.9,1099.6 2081,1103.6 2083.1,1108 C2085.2,1112.3 2087.3,1117.1 2089.3,1122 C2091.4,1126.9 2093.5,1132.2 2095.6,1137.4 C2097.7,1142.6 2099.8,1148.1 2101.9,1153.1 C2104,1158.1 2106.1,1163 2108.2,1167.4 C2110.3,1171.7 2112.4,1175 2114.4,1179.3 C2116.5,1183.5 2118.6,1188.2 2120.7,1192.8 C2122.8,1197.3 2124.9,1202.1 2127,1206.5 C2129.1,1210.9 2131.2,1215.1 2133.3,1219.1 C2135.4,1223.1 2137.5,1226.9 2139.6,1230.5 C2141.6,1234.2 2143.7,1237.8 2145.8,1241.1 C2147.9,1244.5 2150,1247.7 2152.1,1250.9 C2154.2,1254 2156.3,1256.9 2158.4,1260 C2160.5,1263 2162.6,1265.9 2164.7,1268.9 C2166.7,1271.9 2168.8,1275 2170.9,1278 C2173,1281 2175.1,1284 2177.2,1286.9 C2179.3,1289.7 2181.4,1292.4 2183.5,1295 C2185.6,1297.5 2187.7,1299.9 2189.8,1302.2 C2191.8,1304.5 2193.9,1306.8 2196,1308.8 C2198.1,1310.8 2200.2,1312.5 2202.3,1314.1 C2204.4,1315.7 2206.5,1317.1 2208.6,1318.3 C2210.7,1319.6 2212.8,1320.6 2214.8,1321.6 C2216.9,1322.6 2219,1323.5 2221.1,1324.3 C2223.2,1325.2 2225.3,1325.9 2227.4,1326.6 C2229.5,1327.3 2231.6,1327.9 2233.7,1328.4 C2235.8,1329 2237.9,1329.4 2239.9,1329.7 C2242,1330 2244.1,1330.1 2246.2,1330.2 C2248.3,1330.4 2251.5,1330.5 2252.5,1330.6" fill="none" stroke="#fff8f8" stroke-width="4.8"/>
<rect x="1877.4" y="150.9" width="369.7" height="1940.7" fill="none" stroke="#dcc0a4" stroke-width="5.8" stroke-opacity="0.95"/>
<rect x="1878.4" y="151.9" width="367.7" height="1938.7" fill="none" stroke="#8c8438" stroke-width="3"/>
<path d="M1874,837.2 C1874.4,837.3 1875.5,837.6 1876.2,837.9 C1877,838.1 1877.8,838.5 1878.5,838.8 C1879.2,839.1 1880,839.4 1880.8,839.7 C1881.5,840 1882.6,840.4 1883,840.5" fill="none" stroke="#fff8f8" stroke-width="4.8"/>
<path d="M2241.5,1329.9 C2242,1329.9 2243.3,1330 2244.2,1330.1 C2245.2,1330.2 2246.1,1330.2 2247,1330.3 C2247.9,1330.3 2248.8,1330.4 2249.8,1330.4 C2250.7,1330.5 2252,1330.5 2252.5,1330.6" fill="none" stroke="#fff8f8" stroke-width="4.8"/>
</g>
<g id="legend-a">
<rect x="60.6" y="186.7" width="441.2" height="834.6" fill="#fff" stroke="#000" stroke-width="3.2"/>
<rect x="109.5" y="392.4" width="71" height="48.5" fill="#ff0000"/>
<rect x="109.5" y="440.7" width="71" height="48.5" fill="#ff5d00"/>
<rect x="109.5" y="489.1" width="71" height="48.5" fill="#ffb900"/>
<rect x="109.5" y="537.4" width="71" height="48.5" fill="#e8ff00"/>
<rect x="109.5" y="585.7" width="71" height="48.5" fill="#8bff00"/>
<rect x="109.5" y="634" width="71" height="48.5" fill="#2eff00"/>
<rect x="109.5" y="682.4" width="71" height="48.5" fill="#00ff2e"/>
<rect x="109.5" y="730.7" width="71" height="48.5" fill="#00ff8b"/>
<rect x="109.5" y="779" width="71" height="48.5" fill="#00ffe8"/>
<rect x="109.5" y="827.4" width="71" height="48.5" fill="#00b9ff"/>
<rect x="109.5" y="875.7" width="71" height="48.5" fill="#005dff"/>
<rect x="109.5" y="924" width="71" height="48.5" fill="#0000ff"/>
<path d="M108.5,392.4 H205" stroke="#000" stroke-width="2.6" fill="none"/>
<path d="M108.5,440.7 H205" stroke="#000" stroke-width="2.6" fill="none"/>
<path d="M108.5,489.1 H205" stroke="#000" stroke-width="2.6" fill="none"/>
<path d="M108.5,537.4 H205" stroke="#000" stroke-width="2.6" fill="none"/>
<path d="M108.5,585.7 H205" stroke="#000" stroke-width="2.6" fill="none"/>
<path d="M108.5,634 H205" stroke="#000" stroke-width="2.6" fill="none"/>
<path d="M108.5,682.4 H205" stroke="#000" stroke-width="2.6" fill="none"/>
<path d="M108.5,730.7 H205" stroke="#000" stroke-width="2.6" fill="none"/>
<path d="M108.5,779 H205" stroke="#000" stroke-width="2.6" fill="none"/>
<path d="M108.5,827.4 H205" stroke="#000" stroke-width="2.6" fill="none"/>
<path d="M108.5,875.7 H205" stroke="#000" stroke-width="2.6" fill="none"/>
<path d="M108.5,924 H205" stroke="#000" stroke-width="2.6" fill="none"/>
<path d="M108.5,972.4 H205" stroke="#000" stroke-width="2.6" fill="none"/>
<path d="M109.6,392.4 V972.4" stroke="#000" stroke-width="2" fill="none" opacity="0.75"/>
<path d="M180.6,392.4 V972.4" stroke="#000" stroke-width="3" fill="none"/>
<text x="108" y="285.3" font-size="57" textLength="136" lengthAdjust="spacingAndGlyphs">S, S22</text>
<text x="258.5" y="285.3" font-size="69">(MPa)</text>
<text x="240.9" y="405" font-size="52.6">216.28E+00</text>
<text x="240.9" y="453.3" font-size="52.6">182.56E+00</text>
<text x="240.9" y="501.7" font-size="52.6">148.83E+00</text>
<text x="240.9" y="550" font-size="52.6">115.11E+00</text>
<text x="253.9" y="598.3" font-size="52.6">81.38E+00</text>
<text x="253.9" y="646.6" font-size="52.6">47.65E+00</text>
<text x="253.9" y="695" font-size="52.6">13.93E+00</text>
<text x="240.6" y="743.3" font-size="52.6">-19.80E+00</text>
<text x="240.6" y="791.6" font-size="52.6">-53.52E+00</text>
<text x="240.6" y="840" font-size="52.6">-87.25E+00</text>
<text x="227.7" y="888.3" font-size="52.6">-120.97E+00</text>
<text x="227.7" y="936.6" font-size="52.6">-154.70E+00</text>
<text x="227.7" y="985" font-size="52.6">-188.42E+00</text>
</g>
<g id="legend-b" filter="url(#soft)">
<rect x="1448.2" y="180.7" width="400.6" height="675.8" fill="#fff" stroke="#2a2c2e" stroke-width="5.2"/>
<rect x="1470" y="337.5" width="115" height="64.8" fill="#fd2a26"/>
<rect x="1470" y="402.3" width="115" height="66.7" fill="#ff8a24"/>
<rect x="1470" y="469" width="115" height="69" fill="#ffff30"/>
<rect x="1470" y="538" width="115" height="67" fill="#5cfc24"/>
<rect x="1470" y="605" width="115" height="64.5" fill="#2afcf8"/>
<rect x="1470" y="669.5" width="115" height="69.5" fill="#06b8fc"/>
<rect x="1470" y="739" width="115" height="76.5" fill="#0000fe"/>
<path d="M1469,402.3 H1587" stroke="#1a1408" stroke-width="7.4" fill="none"/>
<path d="M1469,469 H1587" stroke="#1a1408" stroke-width="7.4" fill="none"/>
<path d="M1469,538 H1587" stroke="#1a1408" stroke-width="7.4" fill="none"/>
<path d="M1469,605 H1587" stroke="#1a1408" stroke-width="7.4" fill="none"/>
<path d="M1469,669.5 H1587" stroke="#1a1408" stroke-width="7.4" fill="none"/>
<path d="M1469,739 H1587" stroke="#1a1408" stroke-width="7.4" fill="none"/>
<rect x="1470.8" y="337.6" width="114.2" height="478.2" fill="none" stroke="#18141c" stroke-width="5"/>
<text x="1455" y="284.6" font-size="96" class="b" stroke="#000" stroke-width="1.3" stroke-linejoin="round" textLength="58.5" lengthAdjust="spacingAndGlyphs">S</text>
<text x="1509" y="316" font-size="73" class="b" stroke="#000" stroke-width="1.3" stroke-linejoin="round" textLength="76" lengthAdjust="spacingAndGlyphs">22</text>
<text x="1575" y="271.5" font-size="100" class="b" stroke="#000" stroke-width="1.3" stroke-linejoin="round">(MPa)</text>
<text x="1604" y="389.2" font-size="70" class="b" stroke="#000" stroke-width="1.3" stroke-linejoin="round" textLength="113.9" lengthAdjust="spacingAndGlyphs">230</text>
<text x="1604" y="458.5" font-size="70" class="b" stroke="#000" stroke-width="1.3" stroke-linejoin="round" textLength="113.9" lengthAdjust="spacingAndGlyphs">150</text>
<text x="1613" y="528" font-size="70" class="b" stroke="#000" stroke-width="1.3" stroke-linejoin="round" textLength="76" lengthAdjust="spacingAndGlyphs">39</text>
<text x="1598.5" y="598.6" font-size="70" class="b" stroke="#000" stroke-width="1.3" stroke-linejoin="round" textLength="101.2" lengthAdjust="spacingAndGlyphs">-40</text>
<text x="1596.5" y="658" font-size="70" class="b" stroke="#000" stroke-width="1.3" stroke-linejoin="round" textLength="101.2" lengthAdjust="spacingAndGlyphs">-56</text>
<text x="1592.5" y="727.5" font-size="70" class="b" stroke="#000" stroke-width="1.3" stroke-linejoin="round" textLength="135.4" lengthAdjust="spacingAndGlyphs">-150</text>
<text x="1595" y="804.3" font-size="70" class="b" stroke="#000" stroke-width="1.3" stroke-linejoin="round" textLength="135.4" lengthAdjust="spacingAndGlyphs">-266</text>
</g>
<g id="labels">
<text x="52.8" y="155.3" font-size="119">a</text>
<text x="1404.5" y="124" font-size="113.5">b</text>
<text x="550" y="232.8" font-size="91">TBC</text>
<text x="1001" y="766.7" font-size="88.5">TGO</text>
<text x="528" y="1788.4" font-size="91">BC</text>
<text x="2062.5" y="1087" font-size="88">TGO</text>
<g filter="url(#soft)">
<text x="1896" y="229" font-size="84" class="b">TBC</text>
<text x="1898" y="2075.9" font-size="82" class="b" textLength="118" lengthAdjust="spacingAndGlyphs">BC</text>
</g>
</g>
</svg>
</body>
</html>
